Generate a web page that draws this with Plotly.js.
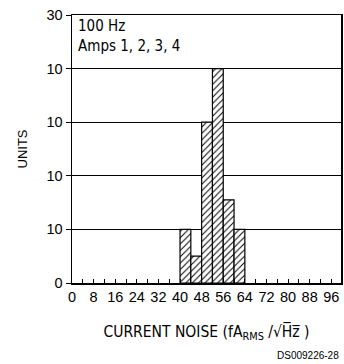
<!DOCTYPE html>
<html><head><meta charset="utf-8">
<script src="https://cdn.plot.ly/plotly-3.0.1.min.js"></script>
<style>html,body{margin:0;padding:0;background:#fff}#c{width:344px;height:364px}</style>
</head><body><div id="c"></div>
<script>
// Histogram bins (current noise, fA/rtHz) and counts
var binCenters = [42, 46, 50, 54, 58, 62];
var counts = [10, 5, 30, 40, 15.5, 10];
var binWidth = 4;
// y tick labels as printed in the reference
var yTickVals = [0, 10, 20, 30, 40, 50];
var yTickText = ["0", "10", "10", "10", "10", "30"];
// x tick labels
var xTickVals = [0, 8, 16, 24, 32, 40, 48, 56, 64, 72, 80, 88, 96];
var xTickText = ["0", "8", "16", "24", "32", "40", "48", "56", "64", "72", "80", "88", "96"];

var FONT = "DejaVu Sans Condensed, Arial Narrow, sans-serif";
var TICKFONT = "Liberation Sans, Arial, sans-serif";

var trace = {
  type: 'bar',
  x: binCenters,
  y: counts,
  width: binWidth,
  marker: {
    color: 'white',
    line: {color: 'black', width: 1.2},
    pattern: {shape: '/', fgcolor: 'black', bgcolor: 'white', size: 4.5, solidity: 0.22}
  },
  hoverinfo: 'none'
};

var layout = {
  width: 344, height: 364,
  margin: {l: 72, r: 3, t: 15, b: 80.5, pad: 0},
  paper_bgcolor: 'white', plot_bgcolor: 'white',
  showlegend: false,
  font: {family: FONT, color: 'black', size: 15},
  xaxis: {
    range: [0, 99.6], tickmode: 'array', tickvals: xTickVals, ticktext: xTickText,
    ticks: 'inside', ticklen: 4, tickwidth: 1, tickcolor: 'black',
    minor: {dtick: 4, tick0: 0, ticks: 'inside', ticklen: 4, tickwidth: 1, tickcolor: 'black', showgrid: false},
    showline: true, linecolor: 'black', linewidth: 1.5, mirror: true,
    showgrid: false, zeroline: false,
    tickfont: {family: TICKFONT, size: 14.5},
    title: {text: 'CURRENT NOISE (fA<sub>RMS</sub> /√H\u0305z\u0305 )', font: {family: FONT, size: 15.5}, standoff: 22}
  },
  yaxis: {
    range: [0, 50], tickmode: 'array', tickvals: yTickVals, ticktext: yTickText,
    ticks: 'outside', ticklen: 5, tickwidth: 1, tickcolor: 'black',
    showline: true, linecolor: 'black', linewidth: 1.5, mirror: true,
    showgrid: true, gridcolor: 'black', gridwidth: 1, zeroline: false,
    tickfont: {family: TICKFONT, size: 14.5},
    title: {text: 'UNITS', font: {family: 'Liberation Sans, Arial, sans-serif', size: 13}, standoff: 16}
  },
  annotations: [
    {xref: 'paper', yref: 'paper', x: 0.015, y: 1, xanchor: 'left', yanchor: 'top',
     text: '100 Hz<br>Amps 1, 2, 3, 4', align: 'left', showarrow: false,
     font: {family: FONT, size: 15}},
    {xref: 'paper', yref: 'paper', x: 1.0, y: -0.272, xanchor: 'right', yanchor: 'middle',
     text: 'DS009226-28', showarrow: false,
     font: {family: 'Liberation Sans, Arial, sans-serif', size: 10}}
  ]
};

Plotly.newPlot('c', [trace], layout, {displayModeBar: false, staticPlot: true});
</script>
</body></html>
